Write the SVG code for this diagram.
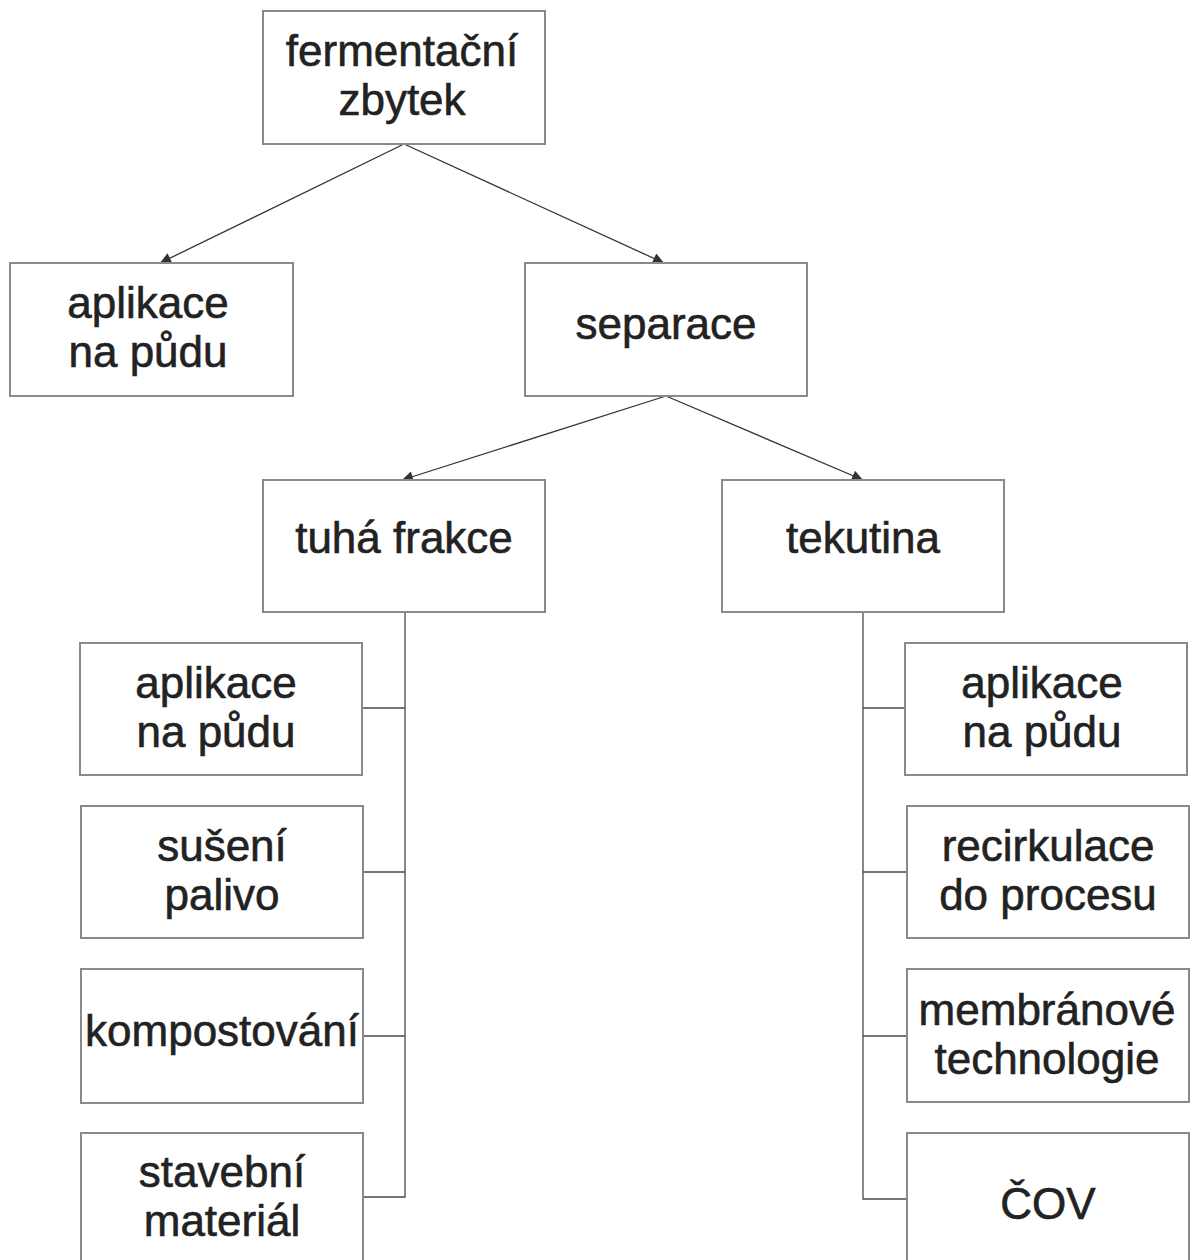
<svg xmlns="http://www.w3.org/2000/svg" width="1194" height="1260" viewBox="0 0 1194 1260">
<style>
.box{fill:#fff;stroke:#8a8a8a;stroke-width:2}
.t{font-family:"Liberation Sans",Arial,sans-serif;font-size:44px;fill:#222;stroke:#222;stroke-width:0.6;text-anchor:middle}
.c{fill:none;stroke:#4a4a4a;stroke-width:1.3}
.a{fill:none;stroke:#333;stroke-width:1.3;marker-end:url(#ah)}
</style>
<defs>
<marker id="ah" viewBox="0 0 10 10" refX="10" refY="5" markerWidth="15" markerHeight="11" markerUnits="userSpaceOnUse" orient="auto">
<path d="M0,0 L10,5 L0,10 z" fill="#333"/>
</marker>
</defs>
<rect width="1194" height="1260" fill="#fff"/>
<g id="connectors">
<line class="a" x1="404" y1="144" x2="160" y2="263"/>
<line class="a" x1="404" y1="144" x2="664" y2="263"/>
<line class="a" x1="666" y1="396" x2="402" y2="480"/>
<line class="a" x1="666" y1="396" x2="863" y2="480"/>
<path class="c" d="M405,612 V1197 H362 M362,708 H405 M362,872 H405 M362,1036 H405"/>
<path class="c" d="M863,612 V1199 H907 M863,708 H905 M863,872 H907 M863,1036 H907"/>
</g>
<g id="n_fermentacni">
<rect class="box" x="263" y="11" width="282" height="133"/>
<text class="t" x="402" y="66">fermentační</text>
<text class="t" x="402" y="115">zbytek</text>
</g>
<g id="n_aplikace_top">
<rect class="box" x="10" y="263" width="283" height="133"/>
<text class="t" x="148" y="318">aplikace</text>
<text class="t" x="148" y="367">na půdu</text>
</g>
<g id="n_separace">
<rect class="box" x="525" y="263" width="282" height="133"/>
<text class="t" x="666" y="339">separace</text>
</g>
<g id="n_tuha">
<rect class="box" x="263" y="480" width="282" height="132"/>
<text class="t" x="404" y="553">tuhá frakce</text>
</g>
<g id="n_tekutina">
<rect class="box" x="722" y="480" width="282" height="132"/>
<text class="t" x="863" y="553">tekutina</text>
</g>
<g id="n_l1">
<rect class="box" x="80" y="643" width="282" height="132"/>
<text class="t" x="216" y="698">aplikace</text>
<text class="t" x="216" y="747">na půdu</text>
</g>
<g id="n_l2">
<rect class="box" x="81" y="806" width="282" height="132"/>
<text class="t" x="222" y="861">sušení</text>
<text class="t" x="222" y="910">palivo</text>
</g>
<g id="n_l3">
<rect class="box" x="81" y="969" width="282" height="134"/>
<text class="t" x="222" y="1046">kompostování</text>
</g>
<g id="n_l4">
<rect class="box" x="81" y="1133" width="282" height="140"/>
<text class="t" x="222" y="1187">stavební</text>
<text class="t" x="222" y="1236">materiál</text>
</g>
<g id="n_r1">
<rect class="box" x="905" y="643" width="282" height="132"/>
<text class="t" x="1042" y="698">aplikace</text>
<text class="t" x="1042" y="747">na půdu</text>
</g>
<g id="n_r2">
<rect class="box" x="907" y="806" width="282" height="132"/>
<text class="t" x="1048" y="861">recirkulace</text>
<text class="t" x="1048" y="910">do procesu</text>
</g>
<g id="n_r3">
<rect class="box" x="907" y="969" width="282" height="133"/>
<text class="t" x="1047" y="1025">membránové</text>
<text class="t" x="1047" y="1074">technologie</text>
</g>
<g id="n_r4">
<rect class="box" x="907" y="1133" width="282" height="140"/>
<text class="t" x="1048" y="1219">ČOV</text>
</g>
</svg>
